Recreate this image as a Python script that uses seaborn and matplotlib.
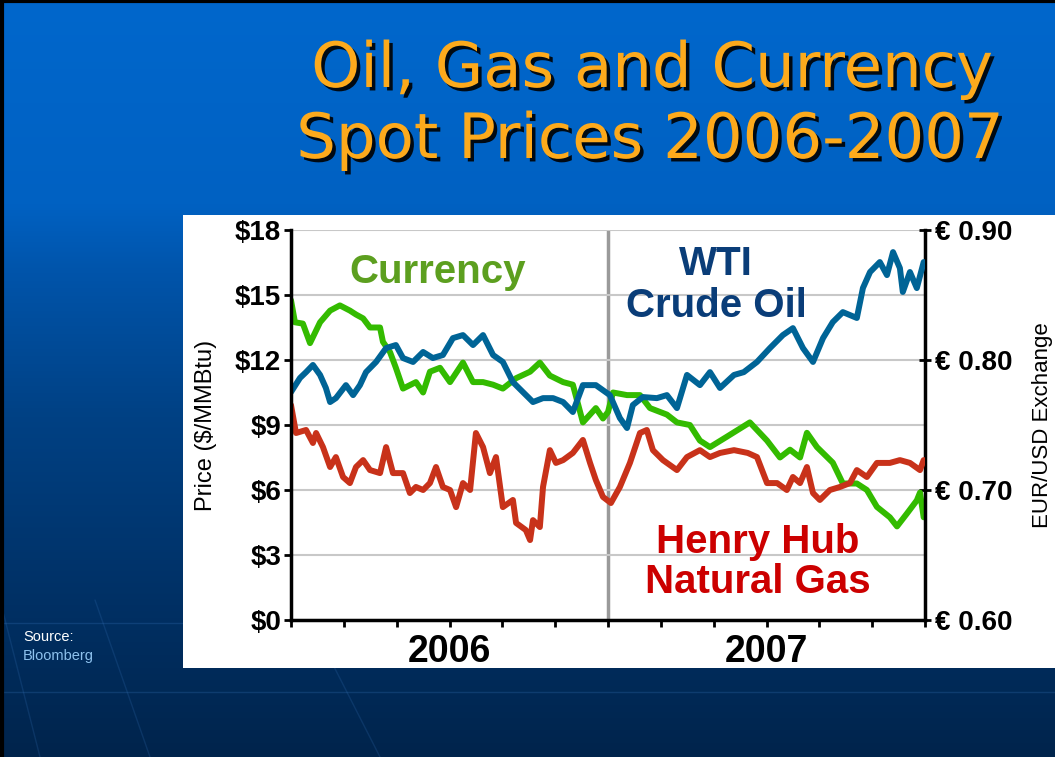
import numpy as np
import matplotlib
matplotlib.use("Agg")
import matplotlib.pyplot as plt
import matplotlib.patheffects as pe
from matplotlib.colors import LinearSegmentedColormap
from matplotlib.patches import Rectangle
from matplotlib.ticker import MultipleLocator
import seaborn as sns

# ---- data (months since Jan 2006) ----
oil_month = [0.0, 0.34, 0.57, 0.83, 1.10, 1.32, 1.48, 1.70, 2.08, 2.35,
             2.61, 2.84, 3.22, 3.60, 3.97, 4.24, 4.62, 5.00, 5.37, 5.75,
             6.13, 6.51, 6.89, 7.27, 7.65, 8.02, 8.40, 8.78, 9.16, 9.54,
             9.92, 10.30, 10.67, 11.05, 11.54, 12.07,
             12.45, 12.72, 12.94, 13.32, 13.85, 14.23, 14.61, 14.99, 15.48, 15.86,
             16.24, 16.77, 17.14, 17.64, 18.13, 18.62, 19.00, 19.38, 19.76, 20.14,
             20.51, 20.89, 21.42, 21.65, 21.92, 22.29, 22.56, 22.79, 23.05, 23.16,
             23.43, 23.69, 23.95]
oil_price = [10.52, 11.17, 11.44, 11.77, 11.31, 10.71, 10.06, 10.24, 10.84, 10.38,
             10.84, 11.44, 11.91, 12.55, 12.69, 12.09, 11.91, 12.37, 12.09, 12.23,
             13.01, 13.15, 12.69, 13.15, 12.23, 11.91, 10.98, 10.52, 10.06, 10.24,
             10.24, 10.06, 9.60, 10.84, 10.84, 10.38,
             9.32, 8.86, 9.92, 10.29, 10.24, 10.38, 9.78, 11.31, 10.84, 11.44,
             10.71, 11.31, 11.44, 11.91, 12.55, 13.15, 13.47, 12.55, 11.91, 13.01,
             13.75, 14.21, 13.94, 15.32, 16.06, 16.52, 15.92, 16.98, 16.24, 15.14,
             16.06, 15.32, 16.52]

gas_month = [0.0, 0.19, 0.57, 0.83, 0.95, 1.21, 1.48, 1.70, 1.97, 2.23,
             2.46, 2.73, 2.99, 3.37, 3.60, 3.86, 4.24, 4.50, 4.73, 5.00,
             5.26, 5.49, 5.75, 6.02, 6.25, 6.51, 6.78, 7.00, 7.27, 7.53,
             7.76, 8.02, 8.40, 8.52, 8.89, 9.05, 9.16, 9.42, 9.54, 9.80,
             10.03, 10.30, 10.67, 11.05, 11.32, 11.54, 11.81, 12.11,
             12.45, 12.83, 13.21, 13.47, 13.70, 14.08, 14.61, 14.99, 15.48, 15.86,
             16.24, 16.77, 17.29, 17.64, 18.02, 18.40, 18.77, 19.00, 19.27, 19.53,
             19.76, 20.02, 20.40, 20.78, 21.16, 21.42, 21.80, 22.18, 22.67, 23.05,
             23.43, 23.81, 23.95]
gas_price = [9.92, 8.63, 8.77, 8.17, 8.63, 7.98, 7.06, 7.52, 6.60, 6.32,
             7.06, 7.38, 6.92, 6.78, 7.98, 6.78, 6.78, 5.86, 6.14, 6.00,
             6.32, 7.06, 6.14, 6.00, 5.21, 6.32, 6.00, 8.63, 7.98, 6.78,
             7.52, 5.21, 5.54, 4.48, 4.15, 3.69, 4.61, 4.29, 6.14, 7.84,
             7.25, 7.38, 7.71, 8.31, 7.25, 6.46, 5.68, 5.40,
             6.14, 7.25, 8.63, 8.77, 7.84, 7.38, 6.92, 7.52, 7.84, 7.52,
             7.71, 7.84, 7.71, 7.52, 6.32, 6.32, 6.00, 6.60, 6.32, 7.06,
             5.86, 5.54, 6.00, 6.14, 6.32, 6.92, 6.60, 7.25, 7.25, 7.38,
             7.25, 6.92, 7.38]

fx_month = [0.0, 0.15, 0.45, 0.72, 1.10, 1.48, 1.85, 2.23, 2.46, 2.73,
            2.99, 3.37, 3.48, 3.75, 3.97, 4.24, 4.73, 5.00, 5.26, 5.64,
            6.02, 6.51, 6.89, 7.27, 7.65, 8.02, 8.52, 9.05, 9.42, 9.80,
            10.30, 10.67, 11.05, 11.54, 11.81, 12.00, 12.19,
            12.72, 13.21, 13.59, 14.23, 14.61, 15.10, 15.48, 15.86, 16.50, 17.37,
            18.02, 18.51, 18.89, 19.27, 19.53, 19.91, 20.51, 20.89, 21.42, 21.80,
            22.18, 22.67, 22.94, 23.32, 23.69, 23.81, 23.95]
fx_rate = [0.846, 0.829, 0.828, 0.813, 0.829, 0.838, 0.842, 0.838, 0.835, 0.832,
           0.825, 0.825, 0.814, 0.806, 0.794, 0.778, 0.783, 0.775, 0.791, 0.794,
           0.783, 0.798, 0.783, 0.783, 0.781, 0.778, 0.786, 0.791, 0.798, 0.788,
           0.783, 0.781, 0.752, 0.763, 0.755, 0.760, 0.775,
           0.773, 0.773, 0.763, 0.758, 0.752, 0.750, 0.738, 0.733, 0.741, 0.752,
           0.738, 0.725, 0.731, 0.725, 0.744, 0.733, 0.721, 0.705, 0.705, 0.700,
           0.687, 0.679, 0.672, 0.682, 0.692, 0.698, 0.679]

price_ticks = [0, 3, 6, 9, 12, 15, 18]
price_labels = ["$0", "$3", "$6", "$9", "$12", "$15", "$18"]
fx_ticks = [0.60, 0.70, 0.80, 0.90]
fx_labels = ["€ 0.60", "€ 0.70", "€ 0.80", "€ 0.90"]
month_ticks = list(range(0, 25, 2))
years = ["2006", "2007"]

sns.set_style("white")
plt.rcParams["font.family"] = ["Liberation Sans", "DejaVu Sans"]
plt.rcParams["text.color"] = "black"
plt.rcParams["axes.labelcolor"] = "black"
plt.rcParams["xtick.color"] = "black"
plt.rcParams["ytick.color"] = "black"

W, H = 1055, 757
fig = plt.figure(figsize=(W / 100, H / 100), dpi=100)

# ---- slide background ----
bg = fig.add_axes([0, 0, 1, 1])
bg.set_zorder(-2)
cmap = LinearSegmentedColormap.from_list(
    "slide", [(0.0, "#0067cc"), (0.27, "#0061c2"), (0.36, "#0054aa"),
              (0.55, "#004184"), (0.8, "#003064"), (1.0, "#00244c")])
grad = np.linspace(0, 1, 256).reshape(-1, 1)
bg.imshow(grad, aspect="auto", cmap=cmap, extent=[0, W, H, 0])
for y in (623, 692):
    bg.plot([0, W], [y, y], color="#3a78c0", lw=1, alpha=0.25)
for x0, x1 in ((95, 150), (0, 40), (300, 380)):
    bg.plot([x0, x1], [600, H], color="#3a78c0", lw=1, alpha=0.2)
bg.plot([0, W], [1, 1], color="black", lw=3)
bg.plot([1.5, 1.5], [0, H], color="black", lw=3)
# white chart panel
bg.add_patch(Rectangle((183, 215), W - 183, 453, facecolor="white",
                       edgecolor="none", zorder=5))
bg.set_xlim(0, W)
bg.set_ylim(H, 0)
bg.axis("off")

# title
title_fx = [pe.withSimplePatchShadow(offset=(2.5, -2.5), shadow_rgbFace="black", alpha=0.9)]
fig.text(652 / W, 1 - 87 / H, "Oil, Gas and Currency", family="DejaVu Sans",
         fontsize=45, color="#fdaa1c", ha="center", va="baseline", path_effects=title_fx)
fig.text(650 / W, 1 - 158 / H, "Spot Prices 2006-2007", family="DejaVu Sans",
         fontsize=45, color="#fdaa1c", ha="center", va="baseline", path_effects=title_fx)

fig.text(23 / W, 1 - 641 / H, "Source:", color="white", fontsize=10.5)
fig.text(23 / W, 1 - 660 / H, "Bloomberg", color="#8ec2ee", fontsize=10.5)

# ---- chart ----
rect = [291 / W, 1 - 620 / H, (925 - 291) / W, 390 / H]
ax = fig.add_axes(rect)
ax2 = ax.twinx()
ax2.set_zorder(1)
ax.set_zorder(2)
ax.patch.set_visible(False)
ax2.patch.set_visible(False)

sns.lineplot(x=fx_month, y=fx_rate, ax=ax2, color="#33bb00", lw=4.3, estimator=None)
sns.lineplot(x=gas_month, y=gas_price, ax=ax, color="#c8321a", lw=4.3, estimator=None)
sns.lineplot(x=oil_month, y=oil_price, ax=ax, color="#006496", lw=4.3, estimator=None)

ax.set_xlim(0, 24)
ax.set_ylim(0, 18)
ax2.set_ylim(0.60, 0.90)

# grid lives on the currency axis so all lines sit on top of it
ax2.set_axisbelow(True)
ax2.yaxis.set_minor_locator(MultipleLocator(0.05))
ax2.grid(axis="y", which="both", color="#c8c8c8", lw=1.5)
ax2.grid(axis="x", visible=False)
ax2.axvline(12, color="#9a9a9a", lw=2.5, zorder=0.5)

ax.set_xticks(month_ticks)
ax.set_xticklabels([])
ax.set_yticks(price_ticks)
ax.set_yticklabels(price_labels, fontsize=20, fontweight="bold")
ax.tick_params(axis="y", direction="out", length=5, width=2, pad=2, left=True)
ax.tick_params(axis="x", direction="out", length=5, width=2, bottom=True)
ax.set_ylabel("Price ($/MMBtu)", fontsize=17, labelpad=13)
ax.set_xlabel("")

ax2.set_yticks(fx_ticks)
ax2.set_yticklabels(fx_labels, fontsize=20, fontweight="bold")
ax2.tick_params(axis="y", which="major", direction="inout", length=9, width=2, pad=3, right=True)
ax2.tick_params(axis="y", which="minor", length=0)
ax2.set_ylabel("EUR/USD Exchange", fontsize=16, labelpad=14)

for s in ("top", "right"):
    ax.spines[s].set_visible(False)
for s in ("top", "left", "bottom"):
    ax2.spines[s].set_visible(False)
for s in ("left", "bottom"):
    ax.spines[s].set_color("black")
    ax.spines[s].set_linewidth(2.5)
ax2.spines["right"].set_color("black")
ax2.spines["right"].set_linewidth(2.5)

xt = ax.get_xaxis_transform()
for i, yr in enumerate(years):
    ax.text(6 + 12 * i, -0.082, yr, transform=xt, ha="center", va="center",
            fontsize=27, fontweight="bold")

ax.text(5.56, 15.55, "Currency", color="#5c9f1f", fontsize=29, fontweight="bold",
        ha="center", va="baseline")
ax.text(16.09, 15.92, "WTI", color="#0a3d78", fontsize=29, fontweight="bold",
        ha="center", va="baseline")
ax.text(16.09, 13.98, "Crude Oil", color="#0a3d78", fontsize=29, fontweight="bold",
        ha="center", va="baseline")
ax.text(17.68, 3.09, "Henry Hub", color="#cc0000", fontsize=29, fontweight="bold",
        ha="center", va="baseline")
ax.text(17.68, 1.25, "Natural Gas", color="#cc0000", fontsize=29, fontweight="bold",
        ha="center", va="baseline")

fig.savefig("out.png", dpi=100)
plt.close(fig)
